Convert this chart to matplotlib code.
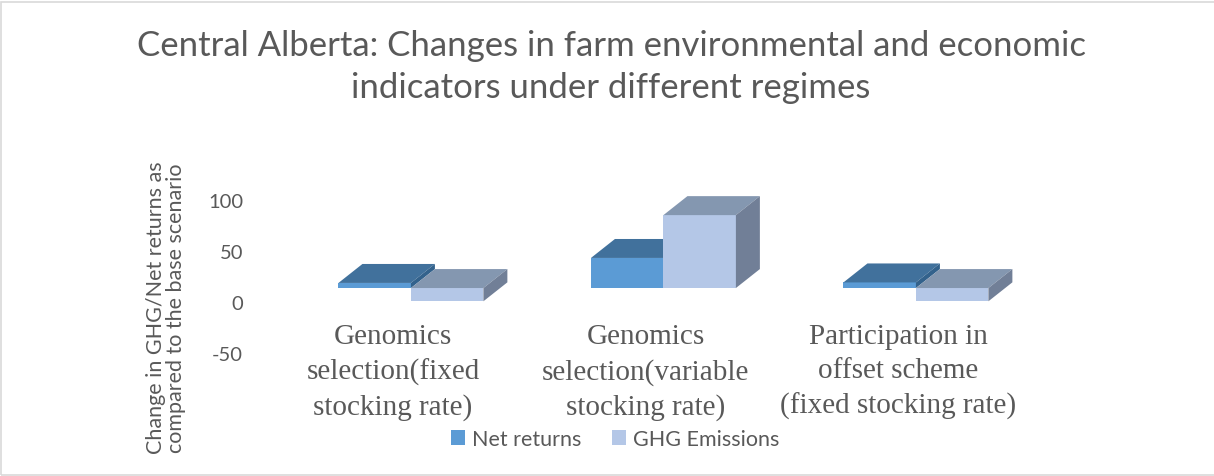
import matplotlib.pyplot as plt
from matplotlib.patches import Polygon, Patch, Rectangle

plt.rcParams["axes.unicode_minus"] = False

# datos del grafico
categorias = ["Genomics\nselection(fixed\nstocking rate)",
              "Genomics\nselection(variable\nstocking rate)",
              "Participation in\noffset scheme\n(fixed stocking rate)"]
net_returns = [5, 29.5, 5.5]
ghg_emisiones = [-13, 71.5, -13]
ticks_y = [-50, 0, 50, 100]
series = ["Net returns", "GHG Emissions"]

# colores (frente, arriba, costado)
colores_net = ("#5B9BD5", "#41719C", "#33628C")
colores_ghg = ("#B4C7E7", "#8497B0", "#717F97")

GRIS = "#595959"
ANCHO = 0.287          # ancho de cada barra
PROF_X = 0.095         # profundidad de la caja (eje x)
PROF_Y = 18.6          # profundidad de la caja (eje y)
DESP_X = 0.071         # distancia del borde del piso al frente de las barras
DESP_Y = 13.7


def caja(ax, x0, valor, colores):
    """
    dibuja una barra con efecto 3D: frente, tapa y costado
    """
    frente, arriba, costado = colores
    base = DESP_Y
    tope = base + max(valor, 0)
    fondo = base + min(valor, 0)
    ax.bar(x0, valor, width=ANCHO, bottom=base, align="edge",
           color=frente, linewidth=0, zorder=3)
    ax.add_patch(Polygon([(x0, tope), (x0 + ANCHO, tope),
                          (x0 + ANCHO + PROF_X, tope + PROF_Y),
                          (x0 + PROF_X, tope + PROF_Y)],
                         closed=True, facecolor=arriba, linewidth=0, zorder=3))
    ax.add_patch(Polygon([(x0 + ANCHO, fondo), (x0 + ANCHO, tope),
                          (x0 + ANCHO + PROF_X, tope + PROF_Y),
                          (x0 + ANCHO + PROF_X, fondo + PROF_Y)],
                         closed=True, facecolor=costado, linewidth=0, zorder=3))


fig = plt.figure(figsize=(12.14, 4.77), dpi=100)
ax = fig.add_axes([255 / 1214, 0, 1 - 255 / 1214, 1])
ax.set_xlim(-0.5465, 3.2515)
ax.set_ylim(-170.6, 297.1)

for i in range(len(categorias)):
    x_frente = i + DESP_X
    caja(ax, x_frente - ANCHO, net_returns[i], colores_net)
    caja(ax, x_frente, ghg_emisiones[i], colores_ghg)
    ax.text(i, -21, categorias[i], ha="center", va="top", color=GRIS,
            fontfamily="Liberation Serif", fontsize=21, linespacing=1.40)

ax.set_yticks(ticks_y)
ax.set_xticks([])
ax.tick_params(axis="y", length=0, pad=8.6, labelsize=14.5, labelcolor=GRIS)
for lbl in ax.get_yticklabels():
    lbl.set_fontfamily("Lato")
for s in ax.spines.values():
    s.set_visible(False)
ax.patch.set_visible(False)

fig.text(611 / 1214, 1 - 30 / 477,
         "Central Alberta: Changes in farm environmental and economic\nindicators under different regimes",
         ha="center", va="top", fontsize=25, color=GRIS, fontfamily="Lato",
         linespacing=1.38)

fig.text(166 / 1214, 1 - 308 / 477,
         "Change in GHG/Net returns as\ncompared to the base scenario",
         ha="center", va="center", rotation=90, fontsize=15.5, color=GRIS,
         fontfamily="Lato", linespacing=1.0)

manijas = [Patch(facecolor=colores_net[0]), Patch(facecolor=colores_ghg[0])]
fig.legend(manijas, series, loc="center", bbox_to_anchor=(615 / 1214, 1 - 440 / 477),
           ncol=2, frameon=False, prop={"family": "Lato", "size": 15.5},
           labelcolor=GRIS, handlelength=0.65, handleheight=0.65,
           handletextpad=0.35, columnspacing=1.4)

# marco del grafico
fig.patches.append(Rectangle((0.5 / 1214, 1.0 / 477), 1.2, 1 - 3.5 / 477,
                             transform=fig.transFigure, fill=False,
                             edgecolor="#D9D9D9", linewidth=1.2))

fig.savefig("out.png", dpi=100, facecolor="white")
plt.close(fig)
